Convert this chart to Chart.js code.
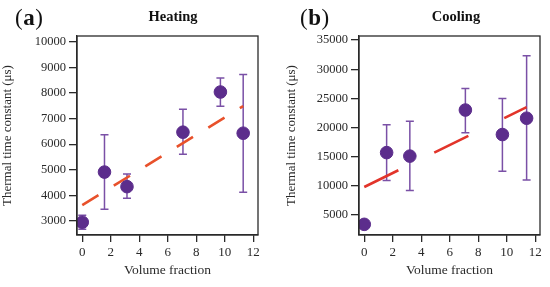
<!DOCTYPE html>
<html>
<head>
<meta charset="utf-8">
<script src="https://cdn.jsdelivr.net/npm/chart.js@4.4.1/dist/chart.umd.min.js"></script>
<style>
  body { margin: 0; background: #fff; }
  #wrap { display: flex; width: 550px; height: 287px; }
  .box { width: 275px; height: 287px; position: relative; }
</style>
</head>
<body>
<div id="wrap">
  <div class="box"><canvas id="heating"></canvas></div>
  <div class="box"><canvas id="cooling"></canvas></div>
</div>
<script>
// volume fraction of each sample
const heatX = [0, 1.56, 3.14, 7.07, 9.7, 11.3];
const heatY = [2950, 4910, 4340, 6470, 8040, 6430];
const heatLow = [2670, 3460, 3890, 5610, 7480, 4120];
const heatHigh = [3220, 6370, 4830, 7370, 8590, 8720];
const heatFitX = [0, 11.3];
const heatFitY = [3620, 7490];
const heatYTicks = [3000, 4000, 5000, 6000, 7000, 8000, 9000, 10000];

const coolX = [0, 1.57, 3.2, 7.1, 9.7, 11.4];
const coolY = [3400, 15700, 15100, 23000, 18800, 21600];
const coolLow = [3400, 10900, 9200, 19100, 12500, 11000];
const coolHigh = [3400, 20500, 21100, 26700, 25000, 32300];
const coolFitX = [0, 11.4];
const coolFitY = [9800, 23500];
const coolYTicks = [5000, 10000, 15000, 20000, 25000, 30000, 35000];

const xTicks = [0, 2, 4, 6, 8, 10, 12];

const serif = "'Liberation Serif', 'DejaVu Serif', serif";
const ink = '#2a2a2a';

const toPoints = (xs, ys) => xs.map((x, i) => ({ x: x, y: ys[i] }));

const errorBars = {
    id: 'errorBars',
    beforeDatasetsDraw(chart, args, opts) {
        const ctx = chart.ctx;
        const xs = chart.scales.x;
        const ys = chart.scales.y;
        ctx.save();
        ctx.strokeStyle = '#7a50a6';
        ctx.lineWidth = 1.5;
        for (let i = 0; i < opts.x.length; i++) {
            if (opts.low[i] === opts.high[i]) continue;
            const px = xs.getPixelForValue(opts.x[i]);
            const lo = ys.getPixelForValue(opts.low[i]);
            const hi = ys.getPixelForValue(opts.high[i]);
            ctx.beginPath();
            ctx.moveTo(px, lo); ctx.lineTo(px, hi);
            ctx.moveTo(px - 4, lo); ctx.lineTo(px + 4, lo);
            ctx.moveTo(px - 4, hi); ctx.lineTo(px + 4, hi);
            ctx.stroke();
        }
        ctx.restore();
    }
};

const frame = {
    id: 'frame',
    afterDraw(chart, args, opts) {
        const ctx = chart.ctx;
        const a = chart.chartArea;
        ctx.save();
        ctx.strokeStyle = ink;
        ctx.lineWidth = 1.3;
        ctx.strokeRect(a.left, a.top, a.right - a.left, a.bottom - a.top);

        // panel letter like "(a)" and title
        ctx.fillStyle = '#111';
        ctx.textBaseline = 'alphabetic';
        let x = opts.letterX;
        ctx.font = '23px ' + serif;
        ctx.fillText('(', x, 25);
        x += ctx.measureText('(').width + 0.5;
        ctx.font = 'bold 23px ' + serif;
        ctx.fillText(opts.letter, x, 25);
        x += ctx.measureText(opts.letter).width + 0.5;
        ctx.font = '23px ' + serif;
        ctx.fillText(')', x, 25);

        ctx.font = 'bold 14.5px ' + serif;
        ctx.textAlign = 'center';
        ctx.fillText(opts.title, opts.titleX, 21);
        ctx.restore();
    }
};

const makeChart = (id, cfg) => {
    const ctx = document.getElementById(id).getContext('2d');
    return new Chart(ctx, {
        type: 'scatter',
        data: {
            datasets: [{
                type: 'line',
                data: toPoints(cfg.fitX, cfg.fitY),
                borderColor: cfg.fitColor,
                borderWidth: 2.6,
                borderDash: cfg.dash,
                pointRadius: 0,
                fill: false,
                order: 2
            }, {
                data: toPoints(cfg.x, cfg.y),
                backgroundColor: '#5c2d8c',
                borderColor: '#5c2d8c',
                pointRadius: 6.3,
                order: 1
            }]
        },
        options: {
            responsive: false,
            animation: false,
            devicePixelRatio: 1,
            layout: { padding: { top: 36, right: cfg.padRight, left: 0, bottom: 0 } },
            plugins: {
                legend: { display: false },
                tooltip: { enabled: false },
                errorBars: { x: cfg.x, low: cfg.low, high: cfg.high },
                frame: { letter: cfg.letter, letterX: cfg.letterX, title: cfg.title, titleX: cfg.titleX }
            },
            scales: {
                x: {
                    type: 'linear',
                    min: -0.37,
                    max: 12.34,
                    afterBuildTicks: (s) => { s.ticks = xTicks.map(v => ({ value: v })); },
                    afterFit: (s) => { s.height = 52; },
                    grid: { display: true, drawOnChartArea: false, drawTicks: true, tickLength: 7, color: ink, lineWidth: 1.3 },
                    border: { display: true, color: ink, width: 1.3 },
                    ticks: { color: ink, padding: 3, font: { family: serif, size: 13 }, callback: (v) => String(v) },
                    title: { display: true, text: 'Volume fraction', color: ink, padding: { top: 8, bottom: 8 }, font: { family: serif, size: 13.5 } }
                },
                y: {
                    type: 'linear',
                    min: cfg.yMin,
                    max: cfg.yMax,
                    afterBuildTicks: (s) => { s.ticks = cfg.yTicks.map(v => ({ value: v })); },
                    afterFit: (s) => { s.width = cfg.axisWidth; },
                    grid: { display: true, drawOnChartArea: false, drawTicks: true, tickLength: 8, color: ink, lineWidth: 1.3 },
                    border: { display: true, color: ink, width: 1.3 },
                    ticks: { color: ink, padding: 3, font: { family: serif, size: 12.5 }, callback: (v) => String(v) },
                    title: { display: true, text: 'Thermal time constant (μs)', color: ink, padding: { top: cfg.titlePad, bottom: 0 }, font: { family: serif, size: 13 } }
                }
            }
        },
        plugins: [errorBars, frame]
    });
};

document.getElementById('heating').width = 275;
document.getElementById('heating').height = 287;
document.getElementById('cooling').width = 275;
document.getElementById('cooling').height = 287;

makeChart('heating', {
    x: heatX, y: heatY, low: heatLow, high: heatHigh,
    fitX: heatFitX, fitY: heatFitY, fitColor: '#e8512b', dash: [19, 18],
    yTicks: heatYTicks, yMin: 2450, yMax: 10230,
    axisWidth: 77, padRight: 17, titlePad: 0,
    letter: 'a', letterX: 15, title: 'Heating', titleX: 173
});

makeChart('cooling', {
    x: coolX, y: coolY, low: coolLow, high: coolHigh,
    fitX: coolFitX, fitY: coolFitY, fitColor: '#e2342a', dash: [38, 40],
    yTicks: coolYTicks, yMin: 1570, yMax: 35700,
    axisWidth: 84, padRight: 10, titlePad: 9,
    letter: 'b', letterX: 25, title: 'Cooling', titleX: 181
});
</script>
</body>
</html>
